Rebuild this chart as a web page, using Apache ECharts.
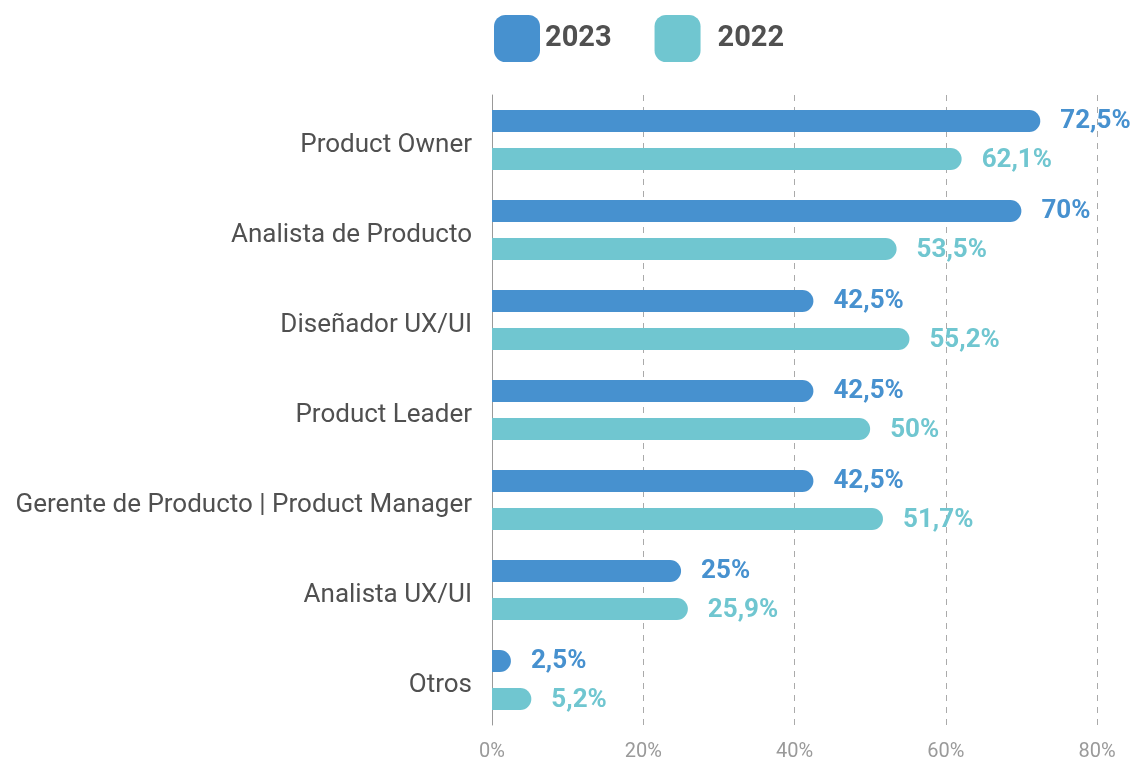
<!DOCTYPE html>
<html>
<head>
<meta charset="utf-8">
<script src="https://cdn.jsdelivr.net/npm/echarts@6/dist/echarts.min.js"></script>
<style>
  html, body { margin: 0; padding: 0; background: #fff; }
  #chart { width: 1133px; height: 762px; }
</style>
</head>
<body>
<div id="chart"></div>
<script>
const categories = ['Product Owner', 'Analista de Producto', 'Diseñador UX/UI', 'Product Leader',
  'Gerente de Producto | Product Manager', 'Analista UX/UI', 'Otros'];
const values2023 = [72.5, 70, 42.5, 42.5, 42.5, 25, 2.5];
const values2022 = [62.1, 53.5, 55.2, 50, 51.7, 25.9, 5.2];
const xTicks = [0, 20, 40, 60, 80];

const blue = '#4791cf';
const teal = '#70c6d0';

// etiqueta con coma decimal
function pct(v) {
  return String(v).replace('.', ',') + '%';
}

function barSeries(name, data, color) {
  return {
    name: name,
    type: 'bar',
    data: data,
    barWidth: 22,
    barGap: '73%',
    itemStyle: { color: color, borderRadius: [0, 11, 11, 0] },
    label: {
      show: true,
      position: 'right',
      distance: 20,
      offset: [0, 1],
      color: color,
      fontFamily: 'Roboto',
      fontWeight: 'bold',
      fontSize: 26,
      formatter: p => pct(p.value)
    }
  };
}

const chart = echarts.init(document.getElementById('chart'));
chart.setOption({
  animation: false,
  textStyle: { fontFamily: 'Roboto' },
  legend: {
    left: 494,
    top: 15,
    padding: 0,
    itemWidth: 46,
    itemHeight: 47,
    itemGap: 43,
    icon: 'roundRect',
    textStyle: { fontSize: 29, fontWeight: 'bold', color: '#505050' },
    data: [
      { name: '2023' },
      { name: '2022', textStyle: { padding: [0, 0, 0, 12] } }
    ]
  },
  grid: { left: 492, right: 36, top: 95, bottom: 32, containLabel: false },
  xAxis: {
    type: 'value',
    min: 0,
    max: 80,
    interval: 20,
    axisLine: { show: false },
    axisTick: { show: false },
    axisLabel: {
      color: '#9a9a9a',
      fontSize: 20,
      margin: 17,
      formatter: v => (xTicks.includes(v) ? v + '%' : '')
    },
    splitLine: { show: true, lineStyle: { color: '#aaaaaa', type: [6, 6], width: 1 } }
  },
  yAxis: {
    type: 'category',
    data: categories,
    inverse: true,
    axisLine: { show: true, lineStyle: { color: '#999999', width: 1 } },
    axisTick: { show: false },
    axisLabel: { color: '#505050', fontSize: 26, margin: 20, verticalAlign: 'top', lineHeight: 10 }
  },
  series: [
    barSeries('2023', values2023, blue),
    barSeries('2022', values2022, teal)
  ]
});
</script>
</body>
</html>
